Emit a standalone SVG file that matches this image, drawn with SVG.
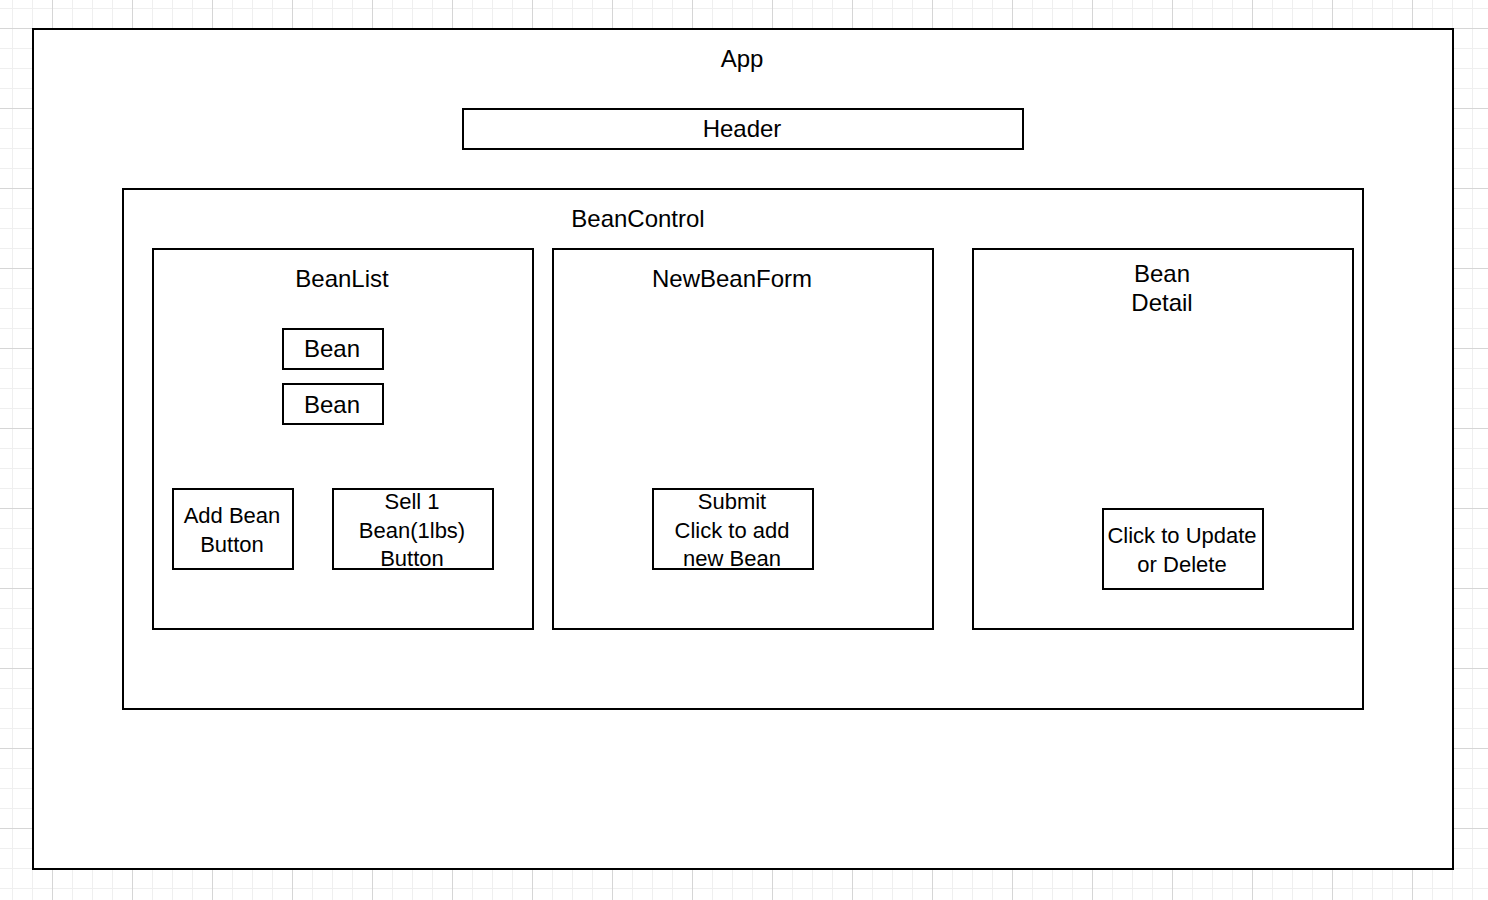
<svg xmlns="http://www.w3.org/2000/svg" width="1488" height="900" viewBox="0 0 1488 900">
<style>
.box{fill:#ffffff;stroke:#000000;stroke-width:2}
text{font-family:"Liberation Sans",Arial,Helvetica,sans-serif;font-size:22px;fill:#000000;text-anchor:middle}
text.big{font-size:24px}
</style>
<defs>
<pattern id="minor" patternUnits="userSpaceOnUse" x="12" y="8" width="20" height="20">
<path d="M0 0.5H20M0.5 0V20" stroke="#efefef" stroke-width="1" fill="none"/>
</pattern>
<pattern id="major" patternUnits="userSpaceOnUse" x="52" y="28" width="80" height="80">
<path d="M0 0.5H80M0.5 0V80" stroke="#d6d6d6" stroke-width="1" fill="none"/>
</pattern>
</defs>
<rect width="1488" height="900" fill="#ffffff"/>
<rect width="1488" height="900" fill="url(#minor)"/>
<rect width="1488" height="900" fill="url(#major)"/>
<g id="app"><rect class="box" x="33" y="29" width="1420" height="840"/><text class="big" x="742" y="67">App</text></g>
<g id="header"><rect class="box" x="463" y="109" width="560" height="40"/><text class="big" x="742" y="137">Header</text></g>
<g id="beancontrol"><rect class="box" x="123" y="189" width="1240" height="520"/><text class="big" x="638" y="227">BeanControl</text></g>
<g id="beanlist"><rect class="box" x="153" y="249" width="380" height="380"/><text class="big" x="342" y="287">BeanList</text></g>
<g id="newbeanform"><rect class="box" x="553" y="249" width="380" height="380"/><text class="big" x="732" y="287">NewBeanForm</text></g>
<g id="beandetail"><rect class="box" x="973" y="249" width="380" height="380"/><text class="big" x="1162" y="282">Bean</text><text class="big" x="1162" y="311">Detail</text></g>
<g id="bean1"><rect class="box" x="283" y="329" width="100" height="40"/><text class="big" x="332" y="357">Bean</text></g>
<g id="bean2"><rect class="box" x="283" y="384" width="100" height="40"/><text class="big" x="332" y="413">Bean</text></g>
<g id="addbean"><rect class="box" x="173" y="489" width="120" height="80"/><text x="232" y="523">Add Bean</text><text x="232" y="552">Button</text></g>
<g id="sellbean"><rect class="box" x="333" y="489" width="160" height="80"/><text x="412" y="509">Sell 1</text><text x="412" y="538">Bean(1lbs)</text><text x="412" y="566">Button</text></g>
<g id="submit"><rect class="box" x="653" y="489" width="160" height="80"/><text x="732" y="509">Submit</text><text x="732" y="538">Click to add</text><text x="732" y="566">new Bean</text></g>
<g id="update"><rect class="box" x="1103" y="509" width="160" height="80"/><text x="1182" y="543">Click to Update</text><text x="1182" y="572">or Delete</text></g>
<g id="connectors"></g>
</svg>
